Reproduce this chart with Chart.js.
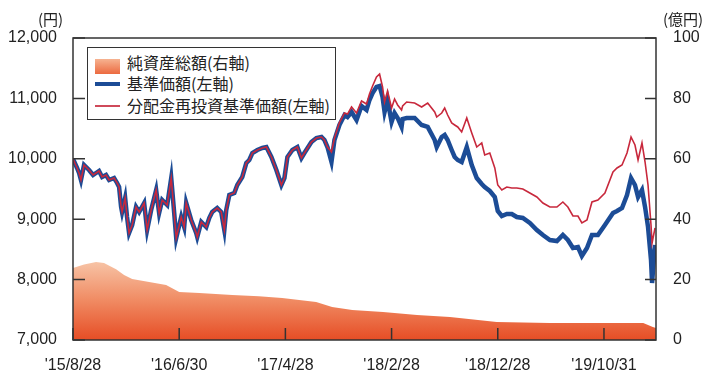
<!DOCTYPE html>
<html lang="ja">
<head>
<meta charset="utf-8">
<title>基準価額・純資産総額の推移</title>
<script src="https://cdn.jsdelivr.net/npm/chart.js@4.4.1/dist/chart.umd.min.js"></script>
<style>
    html, body { margin: 0; padding: 0; background: #fff; }
    #wrap { position: relative; width: 712px; height: 371px; overflow: hidden; }
    #navChart { position: absolute; left: 0; top: 0; }
    .unit { position: absolute; top: 9px; font: 15px "Noto Sans CJK JP", sans-serif; line-height: 20px; color: #222; }
    #legendBox { position: absolute; left: 87px; top: 47px; width: 249px; height: 73px; border: 1.5px solid #333; background: #fff; box-sizing: border-box; }
    .legend-row { position: absolute; left: 0; width: 100%; height: 20px; }
    .legend-swatch { position: absolute; left: 7px; width: 25px; }
    .legend-text { position: absolute; left: 39px; top: 0; font: 16px "Noto Sans CJK JP", sans-serif; line-height: 20px; color: #222; white-space: nowrap; }
</style>
</head>
<body>
<div id="wrap">
    <canvas id="navChart" width="712" height="371"></canvas>
    <div class="unit" style="left:38px">(円)</div>
    <div class="unit" style="left:663px">(億円)</div>
    <div id="legendBox"></div>
</div>
<script>
/**
 * 基準価額・純資産総額の推移
 * x = months since '15/8/28
 */

// Tick labels on the date axis (every 10 months)
const tickLabels = ["'15/8/28", "'16/6/30", "'17/4/28", "'18/2/28", "'18/12/28", "'19/10/31"];
const tickMonths = [0, 10, 20, 30, 40, 50];

// 基準価額 / 分配金再投資基準価額 (円)
const navMonths = [
    0, 0.38, 0.57, 0.75, 1.04, 1.51, 1.89, 2.17, 2.45, 2.74,
    3.11, 3.40, 3.87, 4.15, 4.34, 4.53, 4.62, 4.91, 5.09, 5.28,
    5.57, 5.94, 6.23, 6.70, 6.98, 7.36, 7.83, 8.11, 8.40, 8.87,
    9.25, 9.53, 9.72, 10.19, 10.47, 10.66, 11.13, 11.60, 11.70, 12.08,
    12.55, 12.83, 13.11, 13.58, 13.96, 14.25, 14.43, 14.72, 15.19, 15.47,
    15.94, 16.32, 16.60, 16.89, 17.36, 17.83, 18.21, 18.68, 19.15, 19.62,
    19.91, 20.19, 20.66, 21.13, 21.51, 21.79, 22.45, 22.92, 23.40, 23.68,
    23.96, 24.34, 24.62, 25.09, 25.57, 25.85, 26.23, 26.70, 27.17, 27.64,
    27.92, 28.21, 28.58, 28.87, 29.15, 29.34, 29.62, 30.00, 30.28, 30.57,
    30.94, 31.04, 31.42, 32.17, 32.83, 33.40, 34.06, 34.25, 34.72, 35.00,
    35.28, 35.66, 35.94, 36.23, 36.60, 37.08, 37.55, 38.02, 38.49, 38.77,
    39.25, 39.72, 40.00, 40.38, 40.85, 41.32, 41.79, 42.36, 43.02, 43.68,
    44.25, 44.91, 45.57, 46.13, 46.60, 47.08, 47.55, 47.92, 48.40, 48.87,
    49.43, 50.09, 50.85, 51.23, 51.70, 52.17, 52.55, 52.92, 53.21, 53.58,
    53.87, 54.15, 54.43, 54.53, 54.62, 54.81
];
const navValues = [
    10000, 9848, 9765, 9649, 9897, 9815, 9732, 9765, 9798, 9699,
    9732, 9649, 9682, 9600, 9533, 9202, 9119, 9351, 9036, 8772,
    8904, 9202, 9119, 9268, 8821, 9152, 9483, 9103, 9318, 9235,
    9682, 9103, 8689, 9036, 8871, 9268, 8987, 8772, 8705, 8954,
    8871, 9020, 9119, 9185, 9119, 8821, 9152, 9401, 9434, 9566,
    9699, 9930, 9980, 10096, 10146, 10179, 10195, 10030, 9815, 9566,
    9682, 10030, 10146, 10195, 10013, 10096, 10278, 10344, 10361, 10311,
    10195, 9947, 10311, 10560, 10725, 10692, 10775, 10642, 10874, 10808,
    10974, 11089, 11189, 11205, 11023, 10775, 10974, 10609, 10758, 10676,
    10527, 10659, 10676, 10676, 10560, 10527, 10311, 10195, 10361, 10394,
    10311, 10146, 10030, 9980, 9947, 10195, 9897, 9682, 9583, 9533,
    9467, 9368, 9136, 9053, 9086, 9086, 9036, 9020, 8937, 8821,
    8738, 8656, 8639, 8738, 8656, 8523, 8540, 8391, 8523, 8738,
    8738, 8904, 9103, 9136, 9185, 9401, 9682, 9566, 9368, 9483,
    9202, 8871, 8325, 7944, 8159, 8573
];
const reinvestValues = [
    10000, 9848, 9765, 9649, 9897, 9815, 9732, 9765, 9798, 9699,
    9732, 9649, 9682, 9600, 9533, 9202, 9119, 9351, 9036, 8772,
    8904, 9202, 9119, 9268, 8821, 9152, 9483, 9103, 9318, 9235,
    9682, 9103, 8689, 9036, 8871, 9268, 8987, 8772, 8705, 8954,
    8871, 9020, 9119, 9185, 9119, 8821, 9152, 9401, 9434, 9566,
    9699, 9930, 9980, 10096, 10146, 10179, 10195, 10030, 9815, 9566,
    9682, 10030, 10146, 10195, 10013, 10096, 10278, 10344, 10361, 10311,
    10195, 10113, 10340, 10600, 10760, 10740, 10858, 10758, 10957, 10907,
    11073, 11205, 11354, 11404, 11189, 10940, 11123, 10841, 10990, 10891,
    10808, 10874, 10940, 10924, 10858, 10924, 10775, 10692, 10758, 10841,
    10725, 10593, 10560, 10527, 10444, 10676, 10427, 10195, 10262, 10063,
    10096, 9848, 9566, 9484, 9533, 9517, 9517, 9500, 9434, 9368,
    9268, 9202, 9202, 9285, 9202, 9053, 9053, 8937, 8987, 9285,
    9318, 9434, 9781, 9848, 9897, 10096, 10361, 10229, 9980, 10262,
    9947, 9566, 8904, 8606, 8689, 8854
];

// 純資産総額 (億円)
const assetMonths = [0, 1.04, 2.17, 2.92, 4.06, 4.81, 5.57, 7.17, 8.77, 10.0, 11.9, 15.0, 17.5, 19.7, 22.9, 24.4, 26.3, 29.2, 32.4, 35.5, 39.9, 44.9, 49.6, 53.7, 54.6, 54.9];
const assetValues = [23.8, 25.0, 25.8, 25.5, 23.4, 21.5, 20.2, 19.2, 18.2, 15.9, 15.6, 14.9, 14.5, 13.9, 12.6, 10.9, 9.9, 9.3, 8.3, 7.6, 6.0, 5.6, 5.6, 5.6, 4.3, 4.0];

const seriesNames = ['純資産総額(右軸)', '基準価額(左軸)', '分配金再投資基準価額(左軸)'];
const fontFamily = '"Liberation Sans", Arial, sans-serif';

let navChart = null;

function toPoints(xs, ys) {
    return xs.map((x, i) => ({ x: x, y: ys[i] }));
}

/**
 * Orange gradient for the net asset area
 */
function assetGradient(context) {
    const chart = context.chart;
    const area = chart.chartArea;
    if (!area) {
        return '#ee7b52';
    }
    const top = chart.scales.y1.getPixelForValue(26);
    const g = chart.ctx.createLinearGradient(0, top, 0, area.bottom);
    g.addColorStop(0, '#f7c4a6');
    g.addColorStop(0.5, '#f08a62');
    g.addColorStop(1, '#e64d25');
    return g;
}

// Border box and inward tick marks
const framePlugin = {
    id: 'frame',
    afterDatasetsDraw(chart) {
        const { ctx, chartArea: a, scales } = chart;
        ctx.save();
        ctx.strokeStyle = '#333';
        ctx.lineWidth = 1.5;
        ctx.strokeRect(a.left, a.top, a.right - a.left, a.bottom - a.top);
        ctx.beginPath();
        scales.y.ticks.forEach(t => {
            const py = scales.y.getPixelForValue(t.value);
            ctx.moveTo(a.left, py);
            ctx.lineTo(a.left + 12, py);
        });
        scales.y1.ticks.forEach(t => {
            const py = scales.y1.getPixelForValue(t.value);
            ctx.moveTo(a.right - 11, py);
            ctx.lineTo(a.right, py);
        });
        scales.x.ticks.forEach(t => {
            const px = scales.x.getPixelForValue(t.value);
            ctx.moveTo(px, a.bottom);
            ctx.lineTo(px, a.bottom - 12);
        });
        ctx.stroke();
        ctx.restore();
    }
};

function initNavChart() {
    const ctx = document.getElementById('navChart');

    navChart = new Chart(ctx, {
        type: 'line',
        data: {
            datasets: [{
                label: seriesNames[2],
                data: toPoints(navMonths, reinvestValues),
                yAxisID: 'y',
                borderColor: '#c8283c',
                borderWidth: 1.6,
                pointRadius: 0,
                fill: false,
                order: 0,
            }, {
                label: seriesNames[1],
                data: toPoints(navMonths, navValues),
                yAxisID: 'y',
                borderColor: '#1c4c96',
                borderWidth: 4.5,
                pointRadius: 0,
                fill: false,
                order: 1,
            }, {
                label: seriesNames[0],
                data: toPoints(assetMonths, assetValues),
                yAxisID: 'y1',
                borderWidth: 0,
                pointRadius: 0,
                backgroundColor: assetGradient,
                fill: 'origin',
                order: 2,
            }]
        },
        options: {
            responsive: false,
            animation: false,
            devicePixelRatio: 1,
            layout: { padding: { top: 38, left: 0, right: 0, bottom: 0 } },
            plugins: {
                legend: { display: false },
                tooltip: { enabled: false }
            },
            scales: {
                x: {
                    type: 'linear',
                    min: 0,
                    max: 54.9,
                    grid: { display: false },
                    border: { display: false },
                    afterBuildTicks: scale => {
                        scale.ticks = tickMonths.map(v => ({ value: v }));
                    },
                    afterFit: scale => { scale.height = 31; },
                    ticks: {
                        autoSkip: false,
                        maxRotation: 0,
                        padding: 8,
                        color: '#222',
                        font: { family: fontFamily, size: 16 },
                        callback: value => tickLabels[tickMonths.indexOf(value)]
                    }
                },
                y: {
                    position: 'left',
                    min: 7000,
                    max: 12000,
                    grid: { display: false },
                    border: { display: false },
                    afterFit: scale => { scale.width = 73; },
                    ticks: {
                        stepSize: 1000,
                        padding: 8,
                        color: '#222',
                        font: { family: fontFamily, size: 16 },
                        callback: value => value.toLocaleString('en-US')
                    }
                },
                y1: {
                    position: 'right',
                    min: 0,
                    max: 100,
                    grid: { display: false },
                    border: { display: false },
                    afterFit: scale => { scale.width = 56; },
                    ticks: {
                        stepSize: 20,
                        padding: 9,
                        color: '#222',
                        font: { family: fontFamily, size: 16 }
                    }
                }
            }
        },
        plugins: [framePlugin]
    });

    console.log('✓ NAV chart initialized');
}

/**
 * Legend box inside the plot (built from seriesNames)
 */
function buildLegend() {
    const box = document.getElementById('legendBox');
    const swatches = [
        'top:7px;height:15px;background:linear-gradient(#f6b391,#ec6a40);',
        'top:9px;height:4px;background:#1c4c96;',
        'top:10px;height:2px;background:#cf4a5a;'
    ];
    const rowTops = [4, 25, 47];
    let html = '';
    seriesNames.forEach((name, i) => {
        html += `
            <div class="legend-row" style="top:${rowTops[i]}px">
                <div class="legend-swatch" style="${swatches[i]}"></div>
                <div class="legend-text">${name}</div>
            </div>
        `;
    });
    box.innerHTML = html;
}

document.addEventListener('DOMContentLoaded', function () {
    buildLegend();
    initNavChart();
});
</script>
</body>
</html>
